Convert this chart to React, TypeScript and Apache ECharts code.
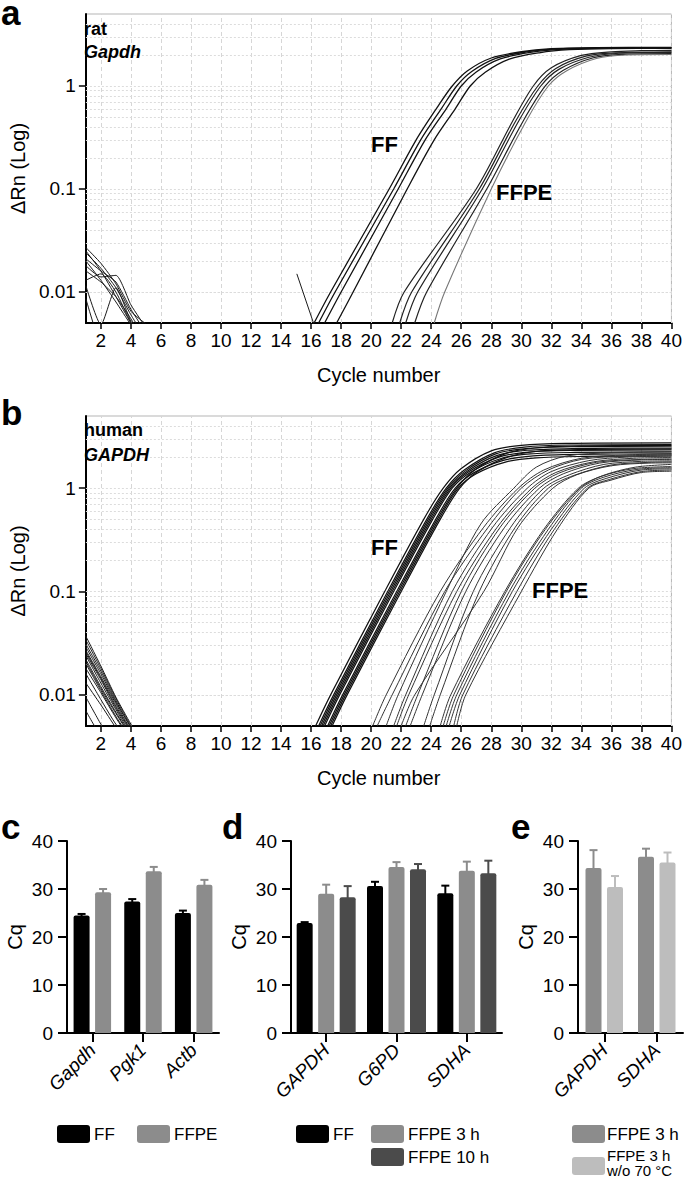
import React, { useEffect, useRef } from "react";
import * as echarts from "echarts";

const FONT = '"Liberation Sans", Arial, Helvetica, sans-serif';

// ---------- amplification plots (a, b) ----------
const CYCLE_MIN = 1;
const CYCLE_MAX = 40;
const CYCLE_TICKS = [2, 4, 6, 8, 10, 12, 14, 16, 18, 20, 22, 24, 26, 28, 30, 32, 34, 36, 38, 40];
const DRN_MIN = 0.005;
const DRN_MAX = 5;
const DRN_TICKS = [0.01, 0.1, 1];
const DRN_GRID = [0.006, 0.007, 0.008, 0.009, 0.01, 0.02, 0.03, 0.04, 0.05, 0.06, 0.07, 0.08, 0.09, 0.1, 0.2, 0.3, 0.4, 0.5, 0.6, 0.7, 0.8, 0.9, 1, 2, 3, 4];

const NOISE_CYCLES = [1, 2, 3, 4, 5];

// rat Gapdh
const RAT_NOISE = [
  [0.027, 0.019, 0.012, 0.0065, 0.0049],
  [0.024, 0.017, 0.011, 0.006, 0.0035],
  [0.021, 0.016, 0.0125, 0.0068, 0.004],
  [0.018, 0.014, 0.0145, 0.0075, 0.0045],
  [0.016, 0.0125, 0.009, 0.0055, 0.003],
  [0.013, 0.015, 0.01, 0.005, 0.003],
  [0.0115, 0.0048, 0.011, 0.0052, 0.003],
  [0.0086, 0.003, 0.002, 0.002, 0.002],
  [0.02, 0.013, 0.008, 0.0048, 0.003],
  [0.025, 0.016, 0.009, 0.005, 0.003],
];
const RAT_SPIKE = [[15.05, 0.015], [16.2, 0.0048]];
const RAT_FF = [
  [[16.2, 0.005], [17.3, 0.01], [21.2, 0.1], [23.0, 0.3], [24.4, 0.62], [25.4, 1], [26.4, 1.4], [28, 1.87], [30, 2.15], [32, 2.3], [35, 2.36], [40, 2.37]],
  [[16.5, 0.005], [17.6, 0.01], [21.5, 0.1], [23.3, 0.3], [24.7, 0.61], [25.7, 1], [26.7, 1.38], [28.3, 1.85], [30.3, 2.14], [32.3, 2.29], [35.3, 2.34], [40, 2.35]],
  [[16.9, 0.005], [18.0, 0.01], [21.8, 0.1], [23.6, 0.3], [25.0, 0.6], [26.0, 1], [27.0, 1.37], [28.6, 1.83], [30.6, 2.12], [32.6, 2.27], [35.6, 2.33], [40, 2.34]],
  [[17.7, 0.005], [18.8, 0.01], [22.4, 0.1], [24.2, 0.3], [25.6, 0.6], [26.6, 1], [27.6, 1.36], [29.2, 1.82], [31.2, 2.1], [33.2, 2.25], [36, 2.31], [40, 2.32]],
];
const RAT_FFPE = [
  [[21.4, 0.005], [22.2, 0.01], [27.0, 0.1], [29.4, 0.45], [30.8, 1], [32, 1.5], [34, 1.98], [36, 2.15], [38, 2.2], [40, 2.22]],
  [[21.9, 0.005], [22.7, 0.01], [27.2, 0.1], [29.6, 0.45], [31.1, 1], [32.3, 1.48], [34.3, 1.95], [36.3, 2.1], [40, 2.15]],
  [[22.3, 0.005], [23.1, 0.01], [27.4, 0.1], [29.8, 0.45], [31.3, 1], [32.5, 1.45], [34.5, 1.9], [36.5, 2.08], [40, 2.12]],
  [[22.9, 0.005], [23.7, 0.01], [27.7, 0.1], [30.1, 0.45], [31.6, 1], [32.8, 1.42], [34.8, 1.88], [36.8, 2.03], [40, 2.06]],
];
const RAT_FFPE_GREY = [[24.2, 0.005], [24.9, 0.01], [28.0, 0.1], [30.3, 0.45], [31.8, 1], [33, 1.4], [35, 1.85], [37, 2.0], [40, 2.02]];

// human GAPDH
const HUMAN_NOISE = [
  [0.037, 0.019, 0.0095, 0.0052, 0.003],
  [0.034, 0.018, 0.0092, 0.005, 0.003],
  [0.031, 0.017, 0.0088, 0.0048, 0.003],
  [0.029, 0.016, 0.0085, 0.0049, 0.003],
  [0.027, 0.015, 0.0082, 0.0046, 0.003],
  [0.026, 0.0145, 0.0078, 0.0045, 0.003],
  [0.025, 0.014, 0.0075, 0.0044, 0.003],
  [0.024, 0.013, 0.0072, 0.0042, 0.003],
  [0.022, 0.012, 0.0068, 0.0041, 0.003],
  [0.021, 0.0115, 0.0066, 0.004, 0.003],
  [0.02, 0.011, 0.0062, 0.0038, 0.003],
  [0.018, 0.0105, 0.006, 0.0037, 0.003],
  [0.016, 0.009, 0.0052, 0.0035, 0.003],
  [0.013, 0.008, 0.0048, 0.003, 0.002],
  [0.0095, 0.0052, 0.003, 0.002, 0.002],
  [0.007, 0.004, 0.003, 0.002, 0.002],
];
const HUMAN_FF = [
  [[16.3, 0.005], [17.3, 0.01], [20.9, 0.1], [23.5, 0.5], [24.8, 1], [26, 1.55], [28, 2.3], [30, 2.6], [33, 2.72], [40, 2.75]],
  [[16.5, 0.005], [17.5, 0.01], [21.1, 0.1], [23.7, 0.5], [25.0, 1], [26.2, 1.5], [28.2, 2.2], [30.2, 2.5], [33.2, 2.62], [40, 2.65]],
  [[16.6, 0.005], [17.6, 0.01], [21.2, 0.1], [23.8, 0.5], [25.1, 1], [26.3, 1.48], [28.3, 2.15], [30.3, 2.42], [33.3, 2.52], [40, 2.55]],
  [[16.7, 0.005], [17.7, 0.01], [21.3, 0.1], [23.9, 0.5], [25.2, 1], [26.4, 1.46], [28.4, 2.08], [30.4, 2.33], [33.4, 2.42], [40, 2.45]],
  [[16.8, 0.005], [17.8, 0.01], [21.4, 0.1], [24.0, 0.5], [25.3, 1], [26.5, 1.44], [28.5, 2.0], [30.5, 2.24], [33.5, 2.32], [40, 2.35]],
  [[16.9, 0.005], [17.9, 0.01], [21.5, 0.1], [24.1, 0.5], [25.4, 1], [26.6, 1.42], [28.6, 1.93], [30.6, 2.15], [33.6, 2.22], [40, 2.25]],
  [[17.1, 0.005], [18.1, 0.01], [21.7, 0.1], [24.3, 0.5], [25.6, 1], [26.8, 1.4], [28.8, 1.86], [30.8, 2.06], [33.8, 2.13], [40, 2.15]],
  [[17.3, 0.005], [18.3, 0.01], [21.9, 0.1], [24.5, 0.5], [25.8, 1], [27.0, 1.38], [29, 1.8], [31, 1.97], [34, 2.03], [40, 2.05]],
  [[17.2, 0.005], [18.2, 0.01], [21.8, 0.1], [24.4, 0.5], [25.7, 1], [26.9, 1.5], [28.9, 2.15], [30.9, 2.45], [33.9, 2.57], [40, 2.6]],
  [[17.4, 0.005], [18.4, 0.01], [22.0, 0.1], [24.6, 0.5], [25.9, 1], [27.1, 1.45], [29.1, 2.0], [31.1, 2.28], [34.1, 2.37], [40, 2.4]],
];
const HUMAN_FFPE = [
  [[20.1, 0.005], [21.0, 0.01], [24.6, 0.1], [27.5, 0.42], [29.8, 1], [31.5, 1.5], [34, 1.95], [37, 2.1], [40, 2.15]],
  [[20.4, 0.005], [21.4, 0.01], [24.9, 0.1], [27.8, 0.42], [30.0, 1], [31.8, 1.5], [34, 1.9], [37, 2.05], [40, 2.1]],
  [[21.5, 0.005], [22.3, 0.01], [25.4, 0.1], [28.1, 0.42], [30.4, 1], [32.0, 1.45], [34.5, 1.85], [37, 2.0], [40, 2.05]],
  [[21.7, 0.005], [22.5, 0.01], [25.7, 0.1], [28.4, 0.42], [30.7, 1], [32.3, 1.42], [34.8, 1.8], [37.5, 1.95], [40, 1.98]],
  [[22.3, 0.005], [23.1, 0.01], [26.0, 0.1], [28.6, 0.42], [30.9, 1], [32.5, 1.4], [35, 1.78], [38, 1.9], [40, 1.92]],
  [[22.6, 0.005], [23.4, 0.01], [26.3, 0.1], [28.9, 0.42], [31.2, 1], [32.8, 1.38], [35.2, 1.75], [38, 1.88], [40, 1.9]],
  [[23.5, 0.005], [24.2, 0.01], [26.8, 0.1], [29.3, 0.42], [31.5, 1], [33.2, 1.35], [35.5, 1.7], [38, 1.82], [40, 1.84]],
  [[23.9, 0.005], [24.6, 0.01], [27.2, 0.1], [29.6, 0.42], [31.8, 1], [33.5, 1.33], [36, 1.68], [38.5, 1.78], [40, 1.8]],
  [[22.0, 0.005], [22.9, 0.01], [27.5, 0.1], [29.8, 0.42], [32.1, 1], [33.7, 1.35], [36, 1.65], [38.5, 1.75], [40, 1.76]],
  [[21.0, 0.005], [21.8, 0.01], [25.0, 0.1], [27.3, 0.45], [29.5, 1], [31.0, 1.6], [33, 2.05], [36, 2.2], [40, 2.25]],
  [[24.6, 0.005], [25.3, 0.01], [28.9, 0.1], [31.5, 0.4], [33.8, 1], [35.3, 1.3], [37.5, 1.55], [40, 1.62]],
  [[25.0, 0.005], [25.7, 0.01], [29.2, 0.1], [31.8, 0.4], [34.0, 1], [35.5, 1.28], [37.7, 1.52], [40, 1.58]],
  [[25.2, 0.005], [25.9, 0.01], [29.4, 0.1], [32.0, 0.4], [34.2, 1], [35.7, 1.25], [38, 1.5], [40, 1.54]],
  [[25.5, 0.005], [26.1, 0.01], [29.7, 0.1], [32.2, 0.4], [34.4, 1], [35.9, 1.22], [38, 1.45], [40, 1.5]],
  [[25.7, 0.005], [26.3, 0.01], [30.0, 0.1], [32.4, 0.4], [34.5, 1], [36, 1.2], [38, 1.42], [40, 1.46]],
  [[24.8, 0.005], [25.5, 0.01], [29.0, 0.1], [31.6, 0.4], [33.9, 1], [35.4, 1.32], [37.6, 1.6], [40, 1.7]],
];

// ---------- Cq bar charts (c, d, e) ----------
const CQ_MIN = 0;
const CQ_MAX = 40;
const CQ_STEP = 10;

const C_GENES = ["Gapdh", "Pgk1", "Actb"];
const C_FF = [24.5, 27.4, 25.0];
const C_FF_ERR = [0.3, 0.5, 0.5];
const C_FFPE = [29.3, 33.7, 30.9];
const C_FFPE_ERR = [0.7, 0.9, 1.0];

const D_GENES = ["GAPDH", "G6PD", "SDHA"];
const D_FF = [22.9, 30.6, 29.1];
const D_FF_ERR = [0.2, 0.9, 1.6];
const D_FFPE3 = [29.0, 34.6, 33.8];
const D_FFPE3_ERR = [1.9, 1.0, 1.9];
const D_FFPE10 = [28.3, 34.1, 33.3];
const D_FFPE10_ERR = [2.3, 1.1, 2.6];

const E_GENES = ["GAPDH", "SDHA"];
const E_FFPE3 = [34.4, 36.7];
const E_FFPE3_ERR = [3.7, 1.7];
const E_NO70 = [30.4, 35.5];
const E_NO70_ERR = [2.3, 2.1];

const COL_FF = "#000000";
const COL_FFPE = "#8c8c8c";
const COL_FFPE10 = "#4b4b4b";
const COL_NO70 = "#bdbdbd";

const BAR_W = 16;
const BAR_GAP_PX = 5.5;

export default function App() {
  const ref = useRef<HTMLDivElement>(null);

  useEffect(() => {
    if (!ref.current) return;
    const chart = echarts.init(ref.current, undefined, { renderer: "svg" });

    const vGridStyle = { color: "#d6d6d6", type: [4, 3] as any, width: 1 };
    const hGridStyle = { color: "#dcdcdc", type: [2, 2] as any, width: 1 };

    const cycleAxis = (gi: number) => ({
      type: "value",
      gridIndex: gi,
      min: CYCLE_MIN,
      max: CYCLE_MAX,
      name: "Cycle number",
      nameLocation: "middle",
      nameGap: 42,
      nameTextStyle: { fontSize: 20, color: "#000", fontFamily: FONT },
      axisLine: { show: true, onZero: false, lineStyle: { color: "#000", width: 2 } },
      axisTick: { show: true, customValues: CYCLE_TICKS, length: 6, lineStyle: { color: "#000", width: 1.5 } },
      axisLabel: { customValues: CYCLE_TICKS, fontSize: 19, color: "#000", fontFamily: FONT, margin: 8 },
      splitLine: { show: false },
    });

    const drnAxis = (gi: number) => ({
      type: "log",
      logBase: 10,
      gridIndex: gi,
      min: DRN_MIN,
      max: DRN_MAX,
      name: "ΔRn (Log)",
      nameLocation: "middle",
      nameGap: 45,
      nameTextStyle: { fontSize: 20, color: "#000", fontFamily: FONT },
      axisLine: { show: true, lineStyle: { color: "#000", width: 2 } },
      axisTick: { show: true, customValues: DRN_TICKS, length: 7, lineStyle: { color: "#000", width: 1.5 } },
      axisLabel: {
        customValues: DRN_TICKS,
        fontSize: 19,
        color: "#000",
        fontFamily: FONT,
        margin: 10,
        formatter: (v: number) => String(Number(Number(v).toPrecision(2))),
      },
      splitLine: { show: false },
      minorSplitLine: { show: false },
    });

    const gridSeries = (gi: number) => ({
      type: "line",
      xAxisIndex: gi,
      yAxisIndex: gi,
      data: [],
      silent: true,
      z: 1,
      markLine: {
        silent: true,
        symbol: ["none", "none"],
        label: { show: false },
        emphasis: { disabled: true },
        z: 1,
        data: [
          ...CYCLE_TICKS.map((c) => ({ xAxis: c, lineStyle: vGridStyle })),
          ...DRN_GRID.map((v) => ({ yAxis: v, lineStyle: hGridStyle })),
        ],
      },
    });

    const curve = (gi: number, data: number[][], color: string, width: number, smooth = 0.3) => ({
      type: "line",
      xAxisIndex: gi,
      yAxisIndex: gi,
      data,
      showSymbol: false,
      symbol: "none",
      smooth,
      clip: true,
      silent: true,
      z: 3,
      lineStyle: { color, width },
    });

    const noise = (gi: number, vals: number[], color: string, width: number) =>
      curve(gi, NOISE_CYCLES.map((c, i) => [c, vals[i]]), color, width, 0.2);

    const catAxis = (gi: number, cats: string[]) => ({
      type: "category",
      gridIndex: gi,
      data: cats,
      axisLine: { show: true, onZero: false, lineStyle: { color: "#000", width: 2 } },
      axisTick: { show: true, alignWithLabel: true, length: 9, lineStyle: { color: "#000", width: 2 } },
      axisLabel: {
        rotate: 45,
        fontSize: 19,
        fontStyle: "italic",
        color: "#000",
        fontFamily: FONT,
        margin: 14,
        interval: 0,
      },
    });

    const cqAxis = (gi: number) => ({
      type: "value",
      gridIndex: gi,
      min: CQ_MIN,
      max: CQ_MAX,
      interval: CQ_STEP,
      name: "Cq",
      nameLocation: "middle",
      nameGap: 42,
      nameTextStyle: { fontSize: 20, color: "#000", fontFamily: FONT },
      axisLine: { show: true, lineStyle: { color: "#000", width: 2 } },
      axisTick: { show: true, length: 9, lineStyle: { color: "#000", width: 2 } },
      axisLabel: { fontSize: 19, color: "#000", fontFamily: FONT, margin: 14 },
      splitLine: { show: false },
    });

    const bar = (gi: number, vals: number[], color: string) => ({
      type: "bar",
      xAxisIndex: gi,
      yAxisIndex: gi,
      data: vals,
      barWidth: BAR_W,
      barGap: `${(BAR_GAP_PX / BAR_W) * 100}%`,
      silent: true,
      z: 2,
      itemStyle: { color, borderRadius: [2, 2, 0, 0] },
    });

    const errBar = (gi: number, vals: number[], errs: number[], color: string, slot: number, nSlots: number) => {
      const offset = (slot - (nSlots - 1) / 2) * (BAR_W + BAR_GAP_PX);
      return {
        type: "custom",
        xAxisIndex: gi,
        yAxisIndex: gi,
        silent: true,
        z: 4,
        encode: { x: 0, y: 1 },
        data: vals.map((v, i) => [i, v, v + errs[i]]),
        renderItem: (_p: any, api: any) => {
          const base = api.coord([api.value(0), api.value(1)]);
          const top = api.coord([api.value(0), api.value(2)]);
          const x = base[0] + offset;
          return {
            type: "group",
            children: [
              { type: "line", shape: { x1: x, y1: base[1] + 1, x2: x, y2: top[1] }, style: { stroke: color, lineWidth: 2 } },
              { type: "line", shape: { x1: x - 4, y1: top[1], x2: x + 4, y2: top[1] }, style: { stroke: color, lineWidth: 2 } },
            ],
          };
        },
      };
    };

    const text = (t: string, x: number, y: number, fs: number, opts: any = {}) => ({
      type: "text",
      x,
      y,
      z: 50,
      silent: true,
      style: {
        text: t,
        fontSize: fs,
        fontFamily: FONT,
        fontWeight: opts.weight || "normal",
        fontStyle: opts.style || "normal",
        lineHeight: opts.lineHeight,
        fill: "#000",
        textAlign: opts.align || "left",
        textVerticalAlign: "middle",
      },
    });

    const swatch = (x: number, y: number, color: string) => ({
      type: "rect",
      z: 50,
      silent: true,
      shape: { x, y, width: 33, height: 18, r: 3 },
      style: { fill: color },
    });

    const series: any[] = [
      gridSeries(0),
      gridSeries(1),
      ...RAT_NOISE.map((v) => noise(0, v, "#1a1a1a", 1)),
      curve(0, RAT_SPIKE, "#1a1a1a", 1, 0),
      ...RAT_FF.map((d) => curve(0, d, "#111", 1.3)),
      ...RAT_FFPE.map((d) => curve(0, d, "#222", 1.2)),
      curve(0, RAT_FFPE_GREY, "#777", 1.1),
      ...HUMAN_NOISE.map((v) => noise(1, v, "#1a1a1a", 1)),
      ...HUMAN_FF.map((d) => curve(1, d, "#111", 1.2)),
      ...HUMAN_FFPE.map((d) => curve(1, d, "#333", 1)),
      bar(2, C_FF, COL_FF),
      bar(2, C_FFPE, COL_FFPE),
      errBar(2, C_FF, C_FF_ERR, COL_FF, 0, 2),
      errBar(2, C_FFPE, C_FFPE_ERR, COL_FFPE, 1, 2),
      bar(3, D_FF, COL_FF),
      bar(3, D_FFPE3, COL_FFPE),
      bar(3, D_FFPE10, COL_FFPE10),
      errBar(3, D_FF, D_FF_ERR, COL_FF, 0, 3),
      errBar(3, D_FFPE3, D_FFPE3_ERR, COL_FFPE, 1, 3),
      errBar(3, D_FFPE10, D_FFPE10_ERR, COL_FFPE10, 2, 3),
      bar(4, E_FFPE3, COL_FFPE),
      bar(4, E_NO70, COL_NO70),
      errBar(4, E_FFPE3, E_FFPE3_ERR, COL_FFPE, 0, 2),
      errBar(4, E_NO70, E_NO70_ERR, COL_NO70, 1, 2),
    ];

    const option: any = {
      animation: false,
      backgroundColor: "#fff",
      textStyle: { fontFamily: FONT },
      grid: [
        { left: 77, top: 14, width: 597, height: 309, show: true, borderColor: "#b5b5b5", borderWidth: 1, containLabel: false },
        { left: 77, top: 416, width: 597, height: 310, show: true, borderColor: "#b5b5b5", borderWidth: 1, containLabel: false },
        { left: 67, top: 841, width: 152, height: 192, containLabel: false },
        { left: 291, top: 841, width: 211, height: 192, containLabel: false },
        { left: 578, top: 841, width: 105, height: 192, containLabel: false },
      ],
      xAxis: [cycleAxis(0), cycleAxis(1), catAxis(2, C_GENES), catAxis(3, D_GENES), catAxis(4, E_GENES)],
      yAxis: [drnAxis(0), drnAxis(1), cqAxis(2), cqAxis(3), cqAxis(4)],
      series,
      graphic: {
        elements: [
          text("a", 1, 12, 35, { weight: "bold", lineHeight: 24 }),
          text("b", 1, 412, 35, { weight: "bold", lineHeight: 24 }),
          text("c", 1, 826, 35, { weight: "bold", lineHeight: 24 }),
          text("d", 222, 826, 35, { weight: "bold", lineHeight: 24 }),
          text("e", 511, 826, 35, { weight: "bold", lineHeight: 24 }),
          text("rat", 84, 29, 18, { weight: "bold" }),
          text("Gapdh", 84, 52, 18, { weight: "bold", style: "italic" }),
          text("human", 84, 430, 18, { weight: "bold" }),
          text("GAPDH", 84, 455, 18, { weight: "bold", style: "italic" }),
          text("FF", 371, 144, 22, { weight: "bold" }),
          text("FFPE", 496, 192, 22, { weight: "bold" }),
          text("FF", 371, 547, 22, { weight: "bold" }),
          text("FFPE", 532, 590, 22, { weight: "bold" }),
          swatch(57, 1125, COL_FF),
          text("FF", 94, 1134, 17),
          swatch(137, 1125, COL_FFPE),
          text("FFPE", 174, 1134, 17),
          swatch(296, 1125, COL_FF),
          text("FF", 333, 1134, 17),
          swatch(371, 1125, COL_FFPE),
          text("FFPE 3 h", 408, 1134, 17),
          swatch(371, 1148, COL_FFPE10),
          text("FFPE 10 h", 408, 1157, 17),
          swatch(572, 1125, COL_FFPE),
          text("FFPE 3 h", 607, 1134, 17),
          swatch(572, 1157, COL_NO70),
          text("FFPE 3 h\nw/o 70 °C", 607, 1163, 15, { lineHeight: 15 }),
        ],
      },
    };

    chart.setOption(option);
    return () => chart.dispose();
  }, []);

  return (
    <div
      ref={ref}
      style={{ position: "fixed", left: 0, top: 0, width: 685, height: 1180, background: "#fff" }}
    />
  );
}
